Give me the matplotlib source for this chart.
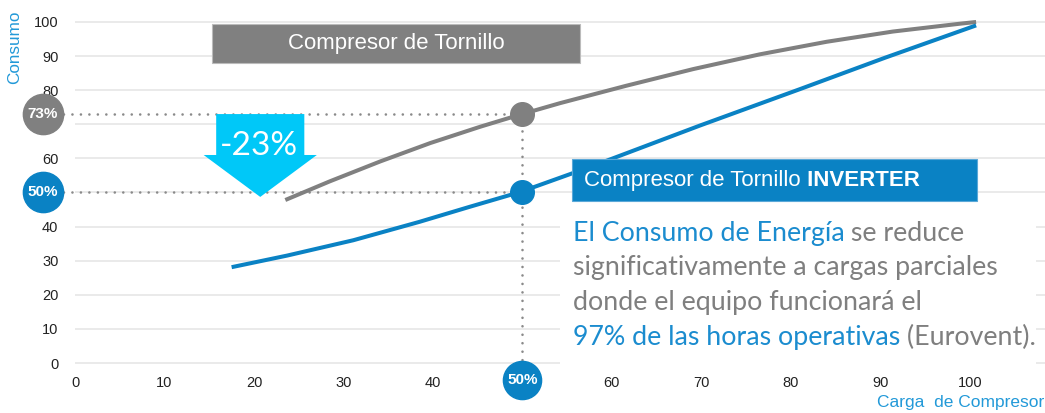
import matplotlib
matplotlib.use('Agg')
import matplotlib.pyplot as plt
import matplotlib.patches as mpatches
import matplotlib.transforms as mtransforms

# valores (carga % -> consumo %)
carga_tornillo = [23.5, 28.5, 34.1, 39.7, 45.3, 49.7, 54.2, 61.6, 69.1, 76.5, 84, 91.4, 98.9, 100.7]
consumo_tornillo = [47.8, 53.3, 59.1, 64.5, 69.3, 72.8, 76.2, 81.3, 86.2, 90.5, 94.2, 97.2, 99.5, 100]
carga_inverter = [17.5, 23.7, 31.1, 38.5, 44.1, 49.7, 56.4, 60.1, 69.8, 81, 90.5, 100.7]
consumo_inverter = [28.1, 31.5, 36.0, 41.4, 45.8, 50.1, 56.4, 60.0, 69.6, 80.3, 89.5, 99]

carga_ref = 50
consumo_ref = [73, 50]
etiquetas_ref = ['73%', '50%']
ahorro = '-23%'
xticks = list(range(0, 101, 10))
yticks = list(range(0, 101, 10))

GRIS = '#808080'
AZUL = '#0A82C4'
AZUL_TXT = '#1B8CCF'
AZUL_EJE = '#2299D8'
CIAN = '#00C8F8'
TXT_GRIS = '#7F7F7F'

fig = plt.figure(figsize=(10.45, 4.13), dpi=100)
ax = fig.add_axes([0.0718, 0.1128, 0.9282, 0.8422])
ax.set_xlim(0, 108.4)
ax.set_ylim(-1, 101)
for s in ax.spines.values():
    s.set_visible(False)
# las etiquetas tapadas por los circulos quedan vacias
ax.set_xticks(xticks, ['' if v == carga_ref else str(v) for v in xticks])
ax.set_yticks(yticks, ['' if any(abs(v - c) < 5 for c in consumo_ref) else str(v) for v in yticks])
ax.tick_params(length=0, labelsize=10.5, labelcolor='#222222', labelfontfamily='Liberation Sans')
ax.tick_params(axis='y', pad=12)
ax.tick_params(axis='x', pad=7)
ax.yaxis.grid(True, color='#e6e6e6', linewidth=1.2)
ax.set_axisbelow(True)

# curvas
ax.plot(carga_tornillo, consumo_tornillo, color=GRIS, lw=2.9, zorder=3, solid_capstyle='butt')
ax.plot(carga_inverter, consumo_inverter, color=AZUL, lw=2.9, zorder=3, solid_capstyle='butt')

# lineas punteadas de referencia
punteado = dict(color='#8a8a8a', lw=1.9, linestyle=(0, (0.01, 3.2)), dash_capstyle='round', clip_on=False, zorder=2)
for c in consumo_ref:
    ax.plot([-2.2, carga_ref], [c, c], **punteado)
ax.plot([carga_ref, carga_ref], [consumo_ref[0], -2], **punteado)

# puntos sobre las curvas
ax.plot([carga_ref], [consumo_ref[0]], 'o', color=GRIS, ms=17, zorder=4)
ax.plot([carga_ref], [consumo_ref[1]], 'o', color=AZUL, ms=17, zorder=4)

# circulos en los ejes
ty = mtransforms.blended_transform_factory(ax.transAxes, ax.transData)
tx = mtransforms.blended_transform_factory(ax.transData, ax.transAxes)
for c, lab, col in zip(consumo_ref, etiquetas_ref, [GRIS, AZUL]):
    ax.plot([-0.033], [c], 'o', color=col, ms=29, transform=ty, clip_on=False, zorder=8)
    ax.text(-0.033, c, lab, transform=ty, color='white', fontsize=11, fontweight='bold',
            family='Liberation Sans', ha='center', va='center', zorder=9)
ax.plot([carga_ref], [-0.039], 'o', color=AZUL, ms=27.5, transform=tx, clip_on=False, zorder=8)
ax.text(carga_ref, -0.039, '%d%%' % carga_ref, transform=tx, color='white', fontsize=11,
        fontweight='bold', family='Liberation Sans', ha='center', va='center', zorder=9)

# flecha -23%
flecha = mpatches.FancyArrow(20.7, consumo_ref[0], 0, -(consumo_ref[0] - 48.7), width=9.85,
                             head_width=12.65, head_length=12.3, length_includes_head=True,
                             color=CIAN, lw=0, zorder=5)
ax.add_patch(flecha)
ax.text(20.6, 63.6, ahorro, color='white', fontsize=24, family='Lato', ha='center', va='center', zorder=6)

# caja gris
ax.add_patch(mpatches.Rectangle((15.3, 88.0), 41.1, 11.4, facecolor=GRIS, edgecolor='#bbbbbb', lw=0.8, zorder=5))
ax.text(35.85, 93.7, 'Compresor de Tornillo', color='white', fontsize=16, family='Liberation Sans',
        ha='center', va='center', zorder=6)

# caja azul
ax.add_patch(mpatches.Rectangle((55.5, 47.5), 45.3, 12.3, facecolor=AZUL, edgecolor='#5aa8d8', lw=0.8, zorder=5))
t = ax.text(56.9, 53.6, 'Compresor de Tornillo', color='white', fontsize=16, family='Liberation Sans',
            ha='left', va='center', zorder=6)
ax.annotate(' INVERTER', xy=(1, 0), xycoords=t, va='bottom', color='white', fontsize=16,
            fontweight='bold', family='Liberation Sans', zorder=6)

# fondo blanco del texto
ax.add_patch(mpatches.Rectangle((54.2, -1), 53.2, 47.4, facecolor='white', edgecolor='none', zorder=1))

lineas = [
    [('El Consumo de Energía', AZUL_TXT), (' se reduce', TXT_GRIS)],
    [('significativamente a cargas parciales', TXT_GRIS)],
    [('donde el equipo funcionará el', TXT_GRIS)],
    [('97% de las horas operativas', AZUL_TXT), (' (Eurovent).', TXT_GRIS)],
]
bases = [35.8, 25.8, 15.5, 5.3]
for partes, yb in zip(lineas, bases):
    t = ax.text(55.6, yb, partes[0][0], color=partes[0][1], fontsize=19.3, family='Lato',
                va='baseline', zorder=6)
    for texto, col in partes[1:]:
        t = ax.annotate(texto, xy=(1, 0), xycoords=t, va='bottom', color=col, fontsize=19.3,
                        family='Lato', zorder=6)

# titulos de ejes
fig.text(15 / 1045, 1 - 47 / 413, 'Consumo', rotation=90, color=AZUL_EJE, fontsize=12.3,
         family='Liberation Sans', ha='center', va='center')
fig.text(1044 / 1045, 1 - 403 / 413, 'Carga  de Compresor', color=AZUL_EJE, fontsize=12.5,
         family='Liberation Sans', ha='right', va='center')

fig.savefig('out.png', dpi=100)
